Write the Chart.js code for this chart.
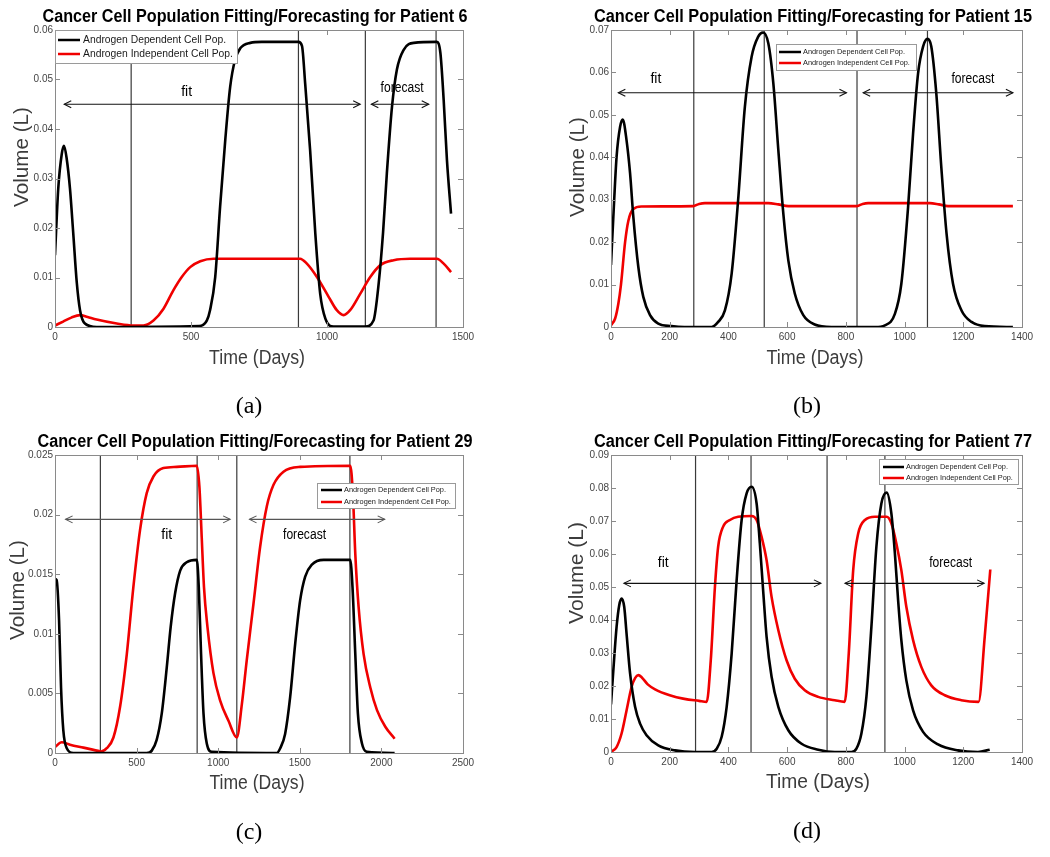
<!DOCTYPE html>
<html>
<head>
<meta charset="utf-8">
<script src="https://cdn.jsdelivr.net/npm/chart.js@4.4.1/dist/chart.umd.min.js"></script>
<style>
  body { margin: 0; background: #fff; }
  #wrap { position: relative; width: 1050px; height: 857px; }
  canvas { position: absolute; }
</style>
</head>
<body>
<div id="wrap">
  <canvas id="pa" width="525" height="420" style="left:0;top:0"></canvas>
  <canvas id="pb" width="525" height="420" style="left:525px;top:0"></canvas>
  <canvas id="pc" width="525" height="437" style="left:0;top:420px"></canvas>
  <canvas id="pd" width="525" height="437" style="left:525px;top:420px"></canvas>
</div>
<script>
// ---- patient 6 ----
const daysDepA = [0, 12, 25, 33, 43, 55, 67, 80, 92, 110, 153, 530, 558, 570, 589, 607, 626, 644, 662, 681, 718, 760, 895, 908, 920, 938, 957, 975, 994, 1024, 1141, 1171, 1190, 1206, 1220, 1239, 1257, 1282, 1319, 1404, 1417, 1429, 1441, 1456];
const volDepA = [0.0145, 0.028, 0.035, 0.0366, 0.034, 0.028, 0.019, 0.009, 0.0034, 0.0007, 0, 0.0002, 0.0013, 0.0034, 0.0101, 0.0243, 0.0378, 0.0485, 0.054, 0.0563, 0.0574, 0.0576, 0.0576, 0.0568, 0.049, 0.0357, 0.0189, 0.0067, 0.0017, 0.0001, 0.0001, 0.0013, 0.0088, 0.019, 0.031, 0.0445, 0.052, 0.056, 0.0574, 0.0576, 0.0553, 0.0458, 0.0337, 0.0229];
const daysIndA = [0, 30, 60, 92, 120, 153, 227, 288, 325, 362, 399, 435, 466, 497, 534, 583, 901, 926, 963, 1006, 1036, 1061, 1085, 1122, 1159, 1196, 1245, 1306, 1404, 1429, 1456];
const volIndA = [0.0003, 0.0011, 0.0019, 0.0024, 0.002, 0.0015, 0.0007, 0.0003, 0.0003, 0.0013, 0.0037, 0.0074, 0.0101, 0.0121, 0.0133, 0.0138, 0.0138, 0.0128, 0.0101, 0.0061, 0.0034, 0.0024, 0.0034, 0.0067, 0.0101, 0.0125, 0.0135, 0.0138, 0.0138, 0.0128, 0.0111];
const marksA = [280, 895, 1141, 1401];
const fitArrowA = [34, 1122, 0.045];
const forecastArrowA = [1163, 1374, 0.045];
const fitLabelA = [484, 0.0475];
const forecastLabelA = [1276, 0.0482];
const xAxisA = [0, 1500, 500];
const yAxisA = [0, 0.06, 0.01];

// ---- patient 15 ----
const daysDepB = [0, 8, 19, 31, 40, 53, 65, 76, 93, 110, 133, 161, 206, 250, 343, 365, 388, 411, 433, 456, 479, 501, 518, 536, 553, 570, 587, 604, 626, 655, 694, 751, 900, 933, 967, 989, 1012, 1029, 1046, 1063, 1078, 1091, 1108, 1125, 1143, 1165, 1194, 1228, 1273, 1369];
const volDepB = [0.0146, 0.026, 0.0401, 0.0472, 0.0489, 0.044, 0.0362, 0.026, 0.0142, 0.0071, 0.0028, 0.0008, 0.0002, 0, 0, 0.0012, 0.0039, 0.0126, 0.0299, 0.0519, 0.0637, 0.0684, 0.0694, 0.0668, 0.0574, 0.0417, 0.0267, 0.0157, 0.0079, 0.0028, 0.0006, 0, 0, 0.0004, 0.0031, 0.0102, 0.0283, 0.0456, 0.0598, 0.0661, 0.0679, 0.0661, 0.0551, 0.0378, 0.022, 0.0102, 0.0039, 0.0012, 0.0002, 0];
const daysIndB = [0, 14, 25, 34, 48, 59, 76, 104, 280, 300, 320, 536, 570, 604, 838, 857, 876, 1086, 1117, 1148, 1369];
const volIndB = [0.0004, 0.002, 0.0055, 0.01, 0.02, 0.025, 0.0278, 0.0284, 0.0285, 0.029, 0.0292, 0.0292, 0.0289, 0.0285, 0.0285, 0.029, 0.0292, 0.0292, 0.0289, 0.0285, 0.0285];
const marksB = [282, 522, 838, 1078];
const fitArrowB = [25, 802, 0.0552];
const forecastArrowB = [859, 1369, 0.0552];
const fitLabelB = [153, 0.0584];
const forecastLabelB = [1233, 0.0584];
const xAxisB = [0, 1400, 200];
const yAxisB = [0, 0.07, 0.01];

// ---- patient 29 ----
const daysDepC = [0, 10, 25, 37, 51, 72, 112, 562, 593, 623, 654, 685, 709, 736, 767, 807, 869, 881, 895, 910, 930, 961, 1359, 1380, 1410, 1441, 1472, 1502, 1533, 1574, 1646, 1809, 1823, 1840, 1856, 1881, 1911, 2081];
const volDepC = [0.0146, 0.0145, 0.0111, 0.0055, 0.0019, 0.0004, 0, 0, 0.0002, 0.0011, 0.0033, 0.0072, 0.0106, 0.0134, 0.0153, 0.016, 0.0162, 0.0139, 0.0083, 0.0033, 0.0008, 0.0001, 0, 0.0004, 0.0016, 0.0047, 0.0092, 0.0128, 0.0148, 0.0158, 0.0162, 0.0162, 0.0139, 0.0083, 0.0033, 0.0008, 0.0001, 0];
const daysIndC = [0, 41, 92, 174, 276, 282, 317, 358, 399, 440, 480, 521, 562, 603, 664, 746, 869, 885, 899, 913, 934, 971, 1012, 1063, 1114, 1145, 1175, 1216, 1257, 1298, 1339, 1400, 1502, 1809, 1825, 1840, 1860, 1891, 1932, 1973, 2024, 2081];
const volIndC = [0.0005, 0.0009, 0.0007, 0.00045, 0.00014, 0.00012, 0.0004, 0.0013, 0.0039, 0.0083, 0.0139, 0.0187, 0.0218, 0.0232, 0.0239, 0.024, 0.0241, 0.0223, 0.0181, 0.0139, 0.0106, 0.0067, 0.0044, 0.0027, 0.0013, 0.0041, 0.0078, 0.0125, 0.0173, 0.0207, 0.0225, 0.0236, 0.024, 0.0241, 0.0218, 0.0167, 0.0123, 0.0083, 0.0055, 0.0036, 0.0022, 0.0012];
const marksC = [278, 871, 1114, 1807];
const fitArrowC = [65, 1073, 0.0196];
const forecastArrowC = [1192, 2020, 0.0196];
const fitLabelC = [685, 0.0183];
const forecastLabelC = [1529, 0.0183];
const xAxisC = [0, 2500, 500];
const yAxisC = [0, 0.025, 0.005];

// ---- patient 77 ----
const daysDepD = [0, 8, 19, 28, 36, 45, 53, 65, 82, 99, 121, 161, 218, 286, 343, 360, 377, 394, 411, 428, 445, 462, 479, 496, 507, 519, 530, 547, 570, 604, 649, 706, 762, 819, 836, 853, 870, 887, 904, 921, 939, 955, 967, 978, 989, 1006, 1029, 1063, 1114, 1182, 1250, 1290];
const volDepD = [0.0144, 0.0248, 0.0379, 0.0445, 0.0465, 0.044, 0.0359, 0.0238, 0.0137, 0.0086, 0.0051, 0.002, 0.0005, 0, 0, 0.001, 0.0046, 0.0137, 0.0298, 0.0521, 0.0703, 0.0784, 0.0804, 0.0753, 0.0632, 0.048, 0.0349, 0.0228, 0.0137, 0.0066, 0.0025, 0.0007, 0, 0, 0.001, 0.0056, 0.0167, 0.0379, 0.0622, 0.0753, 0.0786, 0.0723, 0.0602, 0.046, 0.0339, 0.0217, 0.0126, 0.0061, 0.0023, 0.0005, 0, 0.0007];
const daysIndD = [0, 19, 36, 53, 70, 82, 93, 105, 125, 150, 200, 250, 300, 326, 340, 354, 365, 382, 405, 433, 479, 496, 513, 530, 547, 570, 598, 626, 660, 706, 762, 796, 810, 825, 842, 865, 899, 939, 955, 972, 989, 1006, 1029, 1057, 1091, 1137, 1193, 1252, 1273, 1292];
const volIndD = [0, 0.0015, 0.0056, 0.0126, 0.0197, 0.0224, 0.0233, 0.0226, 0.0205, 0.019, 0.0172, 0.0161, 0.0155, 0.0152, 0.028, 0.05, 0.0622, 0.0683, 0.0703, 0.0713, 0.0715, 0.0703, 0.0652, 0.0581, 0.047, 0.0369, 0.0278, 0.0222, 0.0187, 0.0167, 0.0157, 0.0152, 0.03, 0.0551, 0.0662, 0.0703, 0.0713, 0.0713, 0.0693, 0.0632, 0.0551, 0.044, 0.0339, 0.0258, 0.0202, 0.0172, 0.0157, 0.0152, 0.0349, 0.0553];
const marksD = [288, 477, 736, 933];
const fitArrowD = [44, 715, 0.0511];
const forecastArrowD = [797, 1271, 0.0511];
const fitLabelD = [178, 0.0571];
const forecastLabelD = [1157, 0.0571];
const xAxisD = [0, 1400, 200];
const yAxisD = [0, 0.09, 0.01];

const seriesNames = ["Androgen Dependent Cell Pop.", "Androgen Independent Cell Pop."];
const DEP_COLOR = "#000000";
const IND_COLOR = "#f00000";
const SANS = '"Liberation Sans", Arial, sans-serif';

function toPoints(xs, ys) {
  return xs.map((d, i) => ({ x: d, y: ys[i] }));
}

function tickLabel(v) {
  return String(Number(v.toFixed(5)));
}

// draw text centred on (x, y), squeezed to a given width
function fitText(ctx, str, x, y, font, color, width, rotate) {
  ctx.save();
  ctx.font = font;
  ctx.fillStyle = color;
  ctx.textAlign = "center";
  ctx.textBaseline = "middle";
  ctx.translate(x, y);
  if (rotate) ctx.rotate(-Math.PI / 2);
  if (width) ctx.scale(width / ctx.measureText(str).width, 1);
  ctx.fillText(str, 0, 0);
  ctx.restore();
}

function arrowHead(ctx, x, y, dir) {
  ctx.beginPath();
  ctx.moveTo(x - dir * 7, y - 3.5);
  ctx.lineTo(x, y);
  ctx.lineTo(x - dir * 7, y + 3.5);
  ctx.stroke();
}

const panelDecor = {
  id: "panelDecor",
  beforeDatasetsDraw(chart, args, o) {
    const { ctx, chartArea: a, scales: { x } } = chart;
    ctx.save();
    ctx.strokeStyle = "#3a3a3a";
    ctx.lineWidth = 1.2;
    o.marks.forEach((d) => {
      const px = x.getPixelForValue(d);
      ctx.beginPath();
      ctx.moveTo(px, a.top);
      ctx.lineTo(px, a.bottom);
      ctx.stroke();
    });
    ctx.restore();
  },
  afterDatasetsDraw(chart, args, o) {
    const { ctx, chartArea: a, scales: { x, y } } = chart;
    ctx.save();
    // fit / forecast arrows
    ctx.strokeStyle = o.arrowColor;
    ctx.lineWidth = 1.1;
    [o.fitArrow, o.forecastArrow].forEach(([x1, x2, lvl]) => {
      const p1 = x.getPixelForValue(x1), p2 = x.getPixelForValue(x2), py = y.getPixelForValue(lvl);
      ctx.beginPath();
      ctx.moveTo(p1, py);
      ctx.lineTo(p2, py);
      ctx.stroke();
      arrowHead(ctx, p1, py, -1);
      arrowHead(ctx, p2, py, 1);
    });
    const lblFont = "14px " + SANS;
    fitText(ctx, "fit", x.getPixelForValue(o.fitLabel[0]), y.getPixelForValue(o.fitLabel[1]), lblFont, "#000");
    fitText(ctx, "forecast", x.getPixelForValue(o.forecastLabel[0]), y.getPixelForValue(o.forecastLabel[1]), lblFont, "#000", 43);

    // box and inward ticks
    ctx.strokeStyle = "#8a8a8a";
    ctx.lineWidth = 1;
    ctx.strokeRect(a.left + 0.5, a.top + 0.5, a.width, a.height);
    ctx.beginPath();
    x.ticks.forEach((t) => {
      const px = Math.round(x.getPixelForValue(t.value)) + 0.5;
      ctx.moveTo(px, a.bottom); ctx.lineTo(px, a.bottom - 5);
      ctx.moveTo(px, a.top); ctx.lineTo(px, a.top + 5);
    });
    y.ticks.forEach((t) => {
      const py = Math.round(y.getPixelForValue(t.value)) + 0.5;
      ctx.moveTo(a.left, py); ctx.lineTo(a.left + 5, py);
      ctx.moveTo(a.right, py); ctx.lineTo(a.right - 5, py);
    });
    ctx.stroke();

    // legend
    const L = o.legend;
    ctx.fillStyle = "#fff";
    ctx.fillRect(L.x, L.y, L.w, L.h);
    ctx.strokeStyle = "#9a9a9a";
    ctx.strokeRect(L.x + 0.5, L.y + 0.5, L.w, L.h);
    ctx.font = L.fs + "px " + SANS;
    const sx = L.tw / ctx.measureText(seriesNames[0]).width;
    [DEP_COLOR, IND_COLOR].forEach((c, i) => {
      ctx.strokeStyle = c;
      ctx.lineWidth = 2.5;
      ctx.beginPath();
      ctx.moveTo(L.lx[0], L.rows[i]);
      ctx.lineTo(L.lx[1], L.rows[i]);
      ctx.stroke();
      ctx.save();
      ctx.translate(L.tx, L.rows[i]);
      ctx.scale(sx, 1);
      ctx.fillStyle = "#1a1a1a";
      ctx.textAlign = "left";
      ctx.textBaseline = "middle";
      ctx.fillText(seriesNames[i], 0, 0);
      ctx.restore();
    });
    ctx.restore();
  },
  afterDraw(chart, args, o) {
    const ctx = chart.ctx;
    const t = o.text;
    fitText(ctx, o.title, t.title[0], t.title[1], "bold 18px " + SANS, "#000", t.title[2]);
    fitText(ctx, "Volume (L)", t.ylab[0], t.ylab[1], "20px " + SANS, "#3c3c3c", t.ylab[2], true);
    fitText(ctx, "Time (Days)", t.xlab[0], t.xlab[1], "20px " + SANS, "#3c3c3c", t.xlab[2]);
    fitText(ctx, o.caption, t.cap[0], t.cap[1], '24px "Liberation Serif", "Times New Roman", serif', "#000");
  }
};

function makePanel(p) {
  return new Chart(document.getElementById(p.id), {
    type: "line",
    data: {
      datasets: [
        { label: seriesNames[0], data: toPoints(p.dep[0], p.dep[1]), borderColor: DEP_COLOR },
        { label: seriesNames[1], data: toPoints(p.ind[0], p.ind[1]), borderColor: IND_COLOR }
      ]
    },
    options: {
      responsive: false,
      animation: false,
      parsing: false,
      layout: { padding: { left: 0, right: p.area.right, top: p.area.top, bottom: 0 } },
      elements: {
        point: { radius: 0 },
        line: { borderWidth: 2.6, cubicInterpolationMode: "monotone", fill: false }
      },
      scales: {
        x: {
          type: "linear",
          min: p.xAxis[0], max: p.xAxis[1],
          ticks: { stepSize: p.xAxis[2], padding: 4, color: "#444", font: { family: SANS, size: 10 }, maxRotation: 0, callback: tickLabel },
          grid: { display: false, drawTicks: false },
          border: { display: false },
          afterFit: (s) => { s.height = p.area.xh; }
        },
        y: {
          min: p.yAxis[0], max: p.yAxis[1],
          ticks: { stepSize: p.yAxis[2], padding: 2, color: "#444", font: { family: SANS, size: 10 }, callback: tickLabel },
          grid: { display: false, drawTicks: false },
          border: { display: false },
          afterFit: (s) => { s.width = p.area.left; }
        }
      },
      plugins: {
        legend: { display: false },
        title: { display: false },
        tooltip: { enabled: false },
        panelDecor: p.decor
      }
    },
    plugins: [panelDecor]
  });
}

makePanel({
  id: "pa", dep: [daysDepA, volDepA], ind: [daysIndA, volIndA], xAxis: xAxisA, yAxis: yAxisA,
  area: { left: 55, right: 62, top: 30, xh: 93 },
  decor: {
    marks: marksA, fitArrow: fitArrowA, forecastArrow: forecastArrowA, fitLabel: fitLabelA, forecastLabel: forecastLabelA,
    arrowColor: "#111",
    legend: { x: 55, y: 30, w: 182, h: 33, rows: [40, 54], lx: [58, 80], tx: 83, tw: 143, fs: 11 },
    title: "Cancer Cell Population Fitting/Forecasting for Patient 6", caption: "(a)",
    text: { title: [255, 17, 425], ylab: [22, 157, 100], xlab: [257, 358, 96], cap: [249, 407] }
  }
});

makePanel({
  id: "pb", dep: [daysDepB, volDepB], ind: [daysIndB, volIndB], xAxis: xAxisB, yAxis: yAxisB,
  area: { left: 86, right: 28, top: 30, xh: 93 },
  decor: {
    marks: marksB, fitArrow: fitArrowB, forecastArrow: forecastArrowB, fitLabel: fitLabelB, forecastLabel: forecastLabelB,
    arrowColor: "#111",
    legend: { x: 251, y: 44, w: 140, h: 26, rows: [52, 63], lx: [254, 276], tx: 278, tw: 102, fs: 8 },
    title: "Cancer Cell Population Fitting/Forecasting for Patient 15", caption: "(b)",
    text: { title: [288, 17, 438], ylab: [53, 167, 100], xlab: [290, 358, 97], cap: [282, 407] }
  }
});

makePanel({
  id: "pc", dep: [daysDepC, volDepC], ind: [daysIndC, volIndC], xAxis: xAxisC, yAxis: yAxisC,
  area: { left: 55, right: 62, top: 35, xh: 104 },
  decor: {
    marks: marksC, fitArrow: fitArrowC, forecastArrow: forecastArrowC, fitLabel: fitLabelC, forecastLabel: forecastLabelC,
    arrowColor: "#555",
    legend: { x: 317, y: 63, w: 138, h: 25, rows: [70, 82], lx: [321, 342], tx: 344, tw: 102, fs: 8 },
    title: "Cancer Cell Population Fitting/Forecasting for Patient 29", caption: "(c)",
    text: { title: [255, 22, 435], ylab: [18, 170, 100], xlab: [257, 363, 95], cap: [249, 413] }
  }
});

makePanel({
  id: "pd", dep: [daysDepD, volDepD], ind: [daysIndD, volIndD], xAxis: xAxisD, yAxis: yAxisD,
  area: { left: 86, right: 28, top: 35, xh: 105 },
  decor: {
    marks: marksD, fitArrow: fitArrowD, forecastArrow: forecastArrowD, fitLabel: fitLabelD, forecastLabel: forecastLabelD,
    arrowColor: "#111",
    legend: { x: 354, y: 39, w: 139, h: 25, rows: [47, 58], lx: [358, 379], tx: 381, tw: 102, fs: 8 },
    title: "Cancer Cell Population Fitting/Forecasting for Patient 77", caption: "(d)",
    text: { title: [288, 22, 438], ylab: [52, 153, 102], xlab: [293, 362, 104], cap: [282, 412] }
  }
});
</script>
</body>
</html>
